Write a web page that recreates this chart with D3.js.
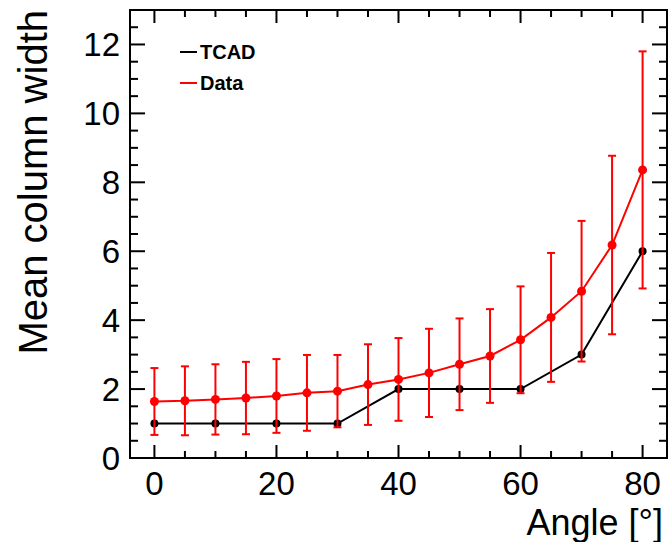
<!DOCTYPE html>
<html>
<head>
<meta charset="utf-8">
<script src="https://cdn.jsdelivr.net/npm/d3@7"></script>
<style>
  body { margin: 0; background: #fff; }
  text { font-family: "Liberation Sans", Arial, sans-serif; }
</style>
</head>
<body>
<svg id="chart"></svg>
<script>
// TCAD simulation (every 10 degrees)
const tcadAngles = [0, 10, 20, 30, 40, 50, 60, 70, 80];
const tcadValues = [1, 1, 1, 1, 2, 2, 2, 3, 6];

// measured data (every 5 degrees) with symmetric errors
const dataAngles = [0, 5, 10, 15, 20, 25, 30, 35, 40, 45, 50, 55, 60, 65, 70, 75, 80];
const dataValues = [1.64, 1.66, 1.70, 1.74, 1.80, 1.89, 1.94, 2.13, 2.28, 2.47, 2.72, 2.96, 3.43, 4.08, 4.84, 6.18, 8.36];
const dataErrors = [0.97, 1.00, 1.02, 1.05, 1.07, 1.10, 1.05, 1.17, 1.20, 1.28, 1.33, 1.36, 1.55, 1.87, 2.04, 2.59, 3.44];

const xTicks = [0, 20, 40, 60, 80];
const yTicks = [0, 2, 4, 6, 8, 10, 12];
const legendLabels = ["TCAD", "Data"];

const W = 672, H = 542;
const margin = {top: 10, right: 5, bottom: 84, left: 130};

const svg = d3.select("#chart").attr("width", W).attr("height", H);

const x = d3.scaleLinear().domain([-4, 84]).range([margin.left, W - margin.right]);
const y = d3.scaleLinear().domain([0, 13]).range([H - margin.bottom, margin.top]);

const x0 = x.range()[0], x1 = x.range()[1];
const y0 = y.range()[0], y1 = y.range()[1];

// ticks on all four sides (ROOT style, pointing inward)
const xMinor = d3.range(0, 84, 5);
const yMinor = d3.range(0.5, 13, 0.5);
const ticks = svg.append("g").attr("stroke", "#000").attr("stroke-width", 2);

xMinor.forEach(v => {
  const len = v % 20 === 0 ? 13 : 7;
  ticks.append("line").attr("x1", x(v)).attr("x2", x(v)).attr("y1", y0).attr("y2", y0 - len);
  ticks.append("line").attr("x1", x(v)).attr("x2", x(v)).attr("y1", y1).attr("y2", y1 + len);
});
yMinor.forEach(v => {
  const len = v % 2 === 0 ? 15 : 8;
  ticks.append("line").attr("y1", y(v)).attr("y2", y(v)).attr("x1", x0).attr("x2", x0 + len);
  ticks.append("line").attr("y1", y(v)).attr("y2", y(v)).attr("x1", x1).attr("x2", x1 - len);
});

svg.append("rect")
  .attr("x", x0).attr("y", y1)
  .attr("width", x1 - x0).attr("height", y0 - y1)
  .attr("fill", "none").attr("stroke", "#000").attr("stroke-width", 2);

// tick labels
svg.append("g").selectAll("text")
  .data(xTicks).join("text")
  .attr("x", d => x(d)).attr("y", 495)
  .attr("text-anchor", "middle")
  .attr("font-size", 33)
  .text(d => d);

svg.append("g").selectAll("text")
  .data(yTicks).join("text")
  .attr("x", 120).attr("y", d => y(d))
  .attr("dy", "0.36em")
  .attr("text-anchor", "end")
  .attr("font-size", 33)
  .text(d => d);

// axis titles
svg.append("text")
  .attr("x", 663).attr("y", 535)
  .attr("text-anchor", "end")
  .attr("font-size", 36)
  .text("Angle [°]");

svg.append("text")
  .attr("transform", `translate(47, ${y1}) rotate(-90)`)
  .attr("text-anchor", "end")
  .attr("font-size", 40)
  .text("Mean column width");

const line = d3.line().x(d => x(d[0])).y(d => y(d[1]));

// TCAD
const tcad = tcadAngles.map((a, i) => [a, tcadValues[i]]);
svg.append("path")
  .datum(tcad)
  .attr("d", line)
  .attr("fill", "none").attr("stroke", "#000").attr("stroke-width", 2);
svg.append("g").selectAll("circle")
  .data(tcad).join("circle")
  .attr("cx", d => x(d[0])).attr("cy", d => y(d[1]))
  .attr("r", 4).attr("fill", "#000");

// Data
const data = dataAngles.map((a, i) => [a, dataValues[i], dataErrors[i]]);
const red = "#ff0000";
const err = svg.append("g").attr("stroke", red).attr("stroke-width", 2);
data.forEach(d => {
  const cx = x(d[0]), top = y(d[1] + d[2]), bot = y(d[1] - d[2]);
  err.append("line").attr("x1", cx).attr("x2", cx).attr("y1", top).attr("y2", bot);
  err.append("line").attr("x1", cx - 4).attr("x2", cx + 4).attr("y1", top).attr("y2", top);
  err.append("line").attr("x1", cx - 4).attr("x2", cx + 4).attr("y1", bot).attr("y2", bot);
});
svg.append("path")
  .datum(data)
  .attr("d", line)
  .attr("fill", "none").attr("stroke", red).attr("stroke-width", 2);
svg.append("g").selectAll("circle")
  .data(data).join("circle")
  .attr("cx", d => x(d[0])).attr("cy", d => y(d[1]))
  .attr("r", 4.5).attr("fill", red);

// legend
const legend = svg.append("g");
[["#000", 52], [red, 83]].forEach((c, i) => {
  legend.append("line")
    .attr("x1", 180).attr("x2", 197).attr("y1", c[1]).attr("y2", c[1])
    .attr("stroke", c[0]).attr("stroke-width", 2);
  legend.append("text")
    .attr("x", 200).attr("y", c[1]).attr("dy", "0.36em")
    .attr("font-size", 20).attr("font-weight", "bold")
    .text(legendLabels[i]);
});
</script>
</body>
</html>
